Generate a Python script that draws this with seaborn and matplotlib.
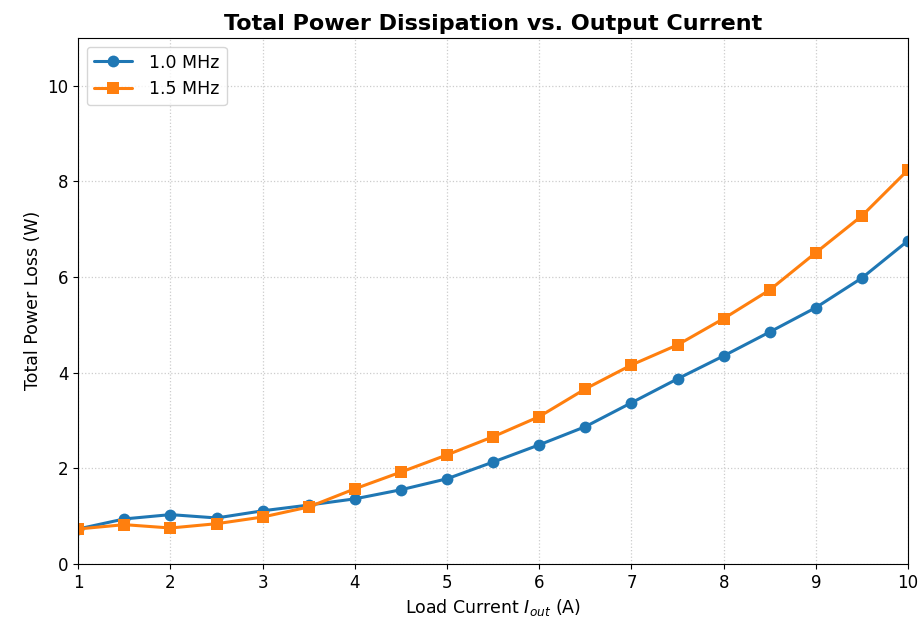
import numpy as np
import pandas as pd
import matplotlib
matplotlib.use("Agg")
import matplotlib.pyplot as plt
import seaborn as sns

# load current steps (A)
current = [1.0, 1.5, 2.0, 2.5, 3.0, 3.5, 4.0, 4.5, 5.0, 5.5,
           6.0, 6.5, 7.0, 7.5, 8.0, 8.5, 9.0, 9.5, 10.0]

# total loss (W)
loss_1mhz = [0.73, 0.94, 1.03, 0.96, 1.11, 1.23, 1.36, 1.55, 1.78, 2.13,
             2.49, 2.87, 3.37, 3.87, 4.35, 4.85, 5.36, 5.98, 6.76]
loss_15mhz = [0.73, 0.82, 0.75, 0.84, 0.98, 1.19, 1.57, 1.92, 2.28, 2.66,
              3.08, 3.66, 4.16, 4.58, 5.13, 5.73, 6.51, 7.28, 8.24]

labels = ["1.0 MHz", "1.5 MHz"]

df = pd.concat([
    pd.DataFrame({"I": current, "P": loss_1mhz, "freq": labels[0]}),
    pd.DataFrame({"I": current, "P": loss_15mhz, "freq": labels[1]}),
])

# plain matplotlib look, black text
sns.set_style("ticks", {"text.color": "black", "axes.labelcolor": "black",
                        "xtick.color": "black", "ytick.color": "black",
                        "axes.edgecolor": "black"})
plt.rcParams["font.family"] = ["DejaVu Sans"]

fig, ax = plt.subplots(figsize=(9.21, 6.21), dpi=100)
fig.subplots_adjust(left=0.085, right=0.986, top=0.939, bottom=0.092)

sns.lineplot(data=df, x="I", y="P", hue="freq", style="freq",
             markers={labels[0]: "o", labels[1]: "s"}, dashes=False,
             palette=["#1f77b4", "#ff7f0e"], linewidth=2.2, markersize=8.5,
             markeredgewidth=0, ax=ax)

ax.set_xlim(1, 10)
ax.set_ylim(0, 11)
ax.set_yticks([0, 2, 4, 6, 8, 10])
ax.set_xticks(range(1, 11))
ax.grid(True, linestyle=":", color="#cccccc", linewidth=0.9)
ax.set_title("Total Power Dissipation vs. Output Current", fontsize=16,
             fontweight="bold")
ax.set_xlabel("Load Current $I_{out}$ (A)", fontsize=12.5)
ax.set_ylabel("Total Power Loss (W)", fontsize=12.5)
ax.tick_params(labelsize=12)
ax.legend(title=None, loc="upper left", fontsize=12.5,
          handlelength=2.2, handletextpad=1.0)

plt.savefig("out.png", dpi=100)
